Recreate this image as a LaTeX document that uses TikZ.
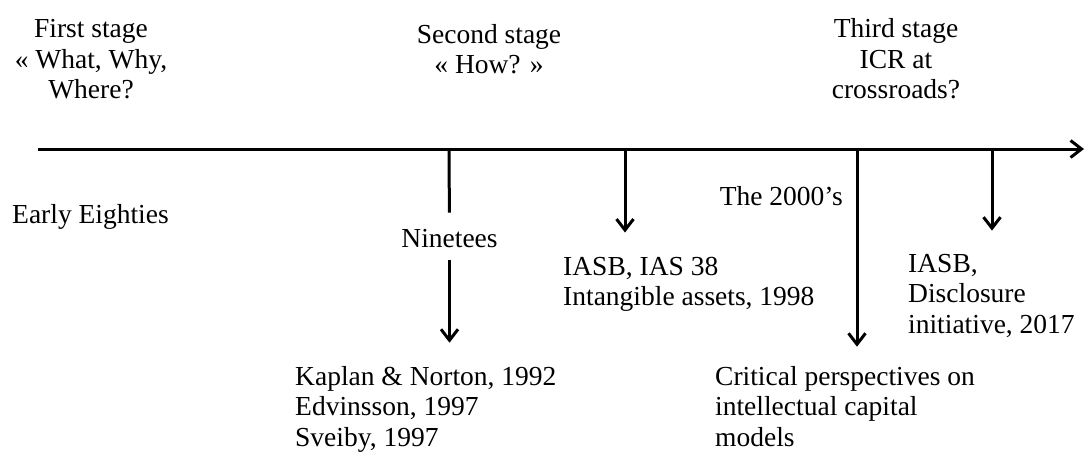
\documentclass[tikz,border=0pt]{standalone}
\usepackage{fontspec}
\setmainfont{Liberation Serif}
\usetikzlibrary{
  arrows.meta, % for the barbed arrow tips
  positioning
}
\tikzset{
  txt/.style={ % style for the plain labels
    inner sep=0pt,
    align=left,
    font=\fontsize{27.5}{30.5}\selectfont,
  },
  stage/.style={ % style for the stage titles
    txt,
    align=center,
  },
  axis/.style={ % style for the time line
    -{Straight Barb[length=11pt,width=17pt]},
    line width=3pt,
  },
  conn/.style={ % style for the arrows down from the time line
    -{Straight Barb[length=11pt,width=17pt]},
    line width=3pt,
  },
  tick/.style={ % style for the plain ticks
    line width=3pt,
  },
}

\begin{document}
\begin{tikzpicture}[x=1pt,y=-1pt]
  \useasboundingbox (0,0) rectangle (1085,452);

  % base anchor of a multi-line node sits on its last line
  \node[stage,anchor=base] (st1) at (91,99)
  {First stage\\« What, Why,\\Where?};
  \node[stage,anchor=base] (st2) at (489,74)
  {Second stage\\« How? »};
  \node[stage,anchor=base] (st3) at (896,99)
  {Third stage\\ICR at\\crossroads?};

  \coordinate (start) at (38,149);
  \coordinate (end) at (1084,149);
  \coordinate (t90) at (449,149);
  \coordinate (tias) at (625,149);
  \coordinate (t2000) at (857,149);
  \coordinate (tdisc) at (992,149);

  \node[txt,anchor=base west] (early) at (12,223)
  {Early Eighties};
  \node[txt,anchor=base] (nin) at (449.5,247)
  {Ninetees};
  \node[txt,anchor=base east] (y2000) at (843,205)
  {The 2000's};
  \node[txt,anchor=base west] (ias) at (563,305.5)
  {IASB, IAS 38\\Intangible assets, 1998};
  \node[txt,anchor=base west] (disc) at (908,333)
  {IASB,\\Disclosure\\initiative, 2017};
  \node[txt,anchor=base west] (kap) at (295,446)
  {Kaplan \& Norton, 1992\\Edvinsson, 1997\\Sveiby, 1997};
  \node[txt,anchor=base west] (crit) at (715,446)
  {Critical perspectives on\\intellectual capital\\models};

  \draw[axis] (start) -- (end);

  \draw[tick,shorten >=16pt] (t90) -- (nin.north);
  \draw[conn,shorten <=13pt,shorten >=23pt] (nin.south) -- (nin.south |- kap.north);
  \draw[conn,shorten >=24pt] (tias) -- (tias |- ias.north);
  \draw[conn,shorten >=19pt] (t2000) -- (t2000 |- crit.north);
  \draw[conn,shorten >=23pt] (tdisc) -- (tdisc |- disc.north);
\end{tikzpicture}
\end{document}
